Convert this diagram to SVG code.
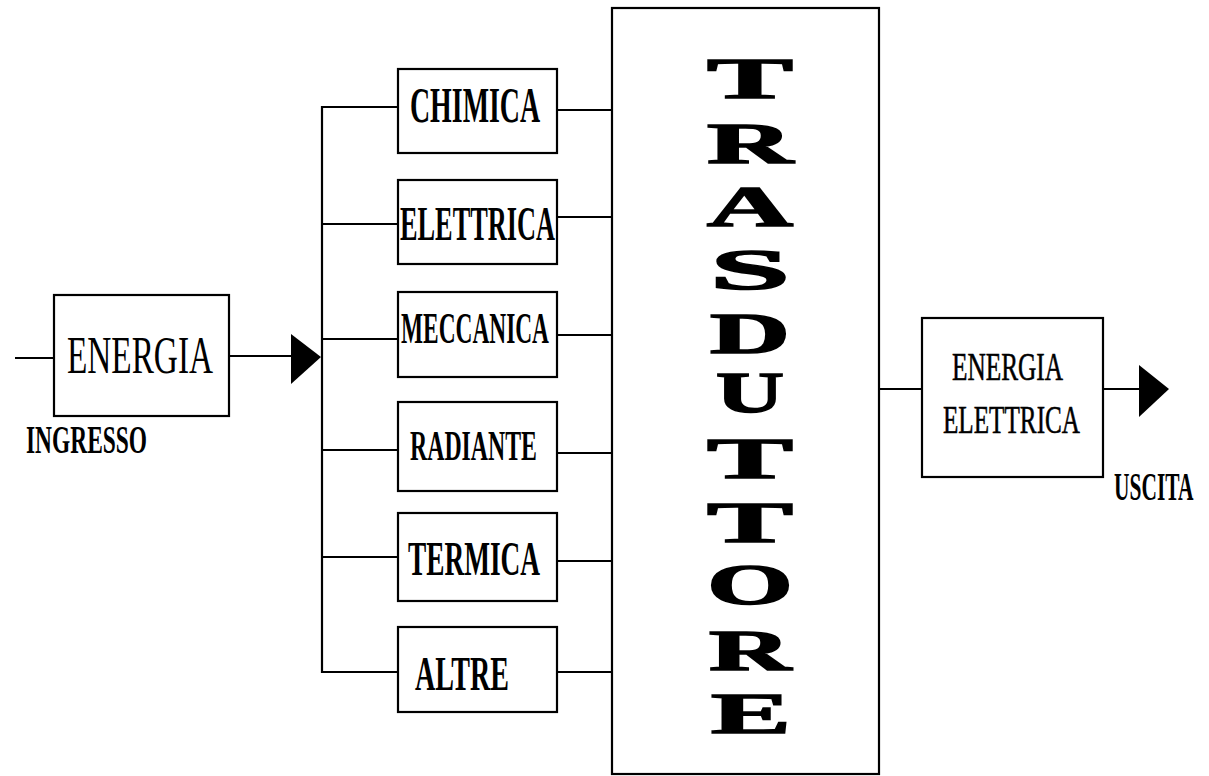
<svg xmlns="http://www.w3.org/2000/svg" width="1209" height="776" viewBox="0 0 1209 776">
<style>
.box{fill:#fff;stroke:#000;stroke-width:2.2}
.ln{stroke:#000;stroke-width:2.2;fill:none}
.lbl{font-family:"Liberation Serif","Times New Roman",serif;font-weight:bold;fill:#000}
.reg{font-family:"Liberation Serif","Times New Roman",serif;font-weight:normal;fill:#000}
.med{stroke:#000;stroke-width:0.6}
.big{font-family:"Liberation Serif","Times New Roman",serif;font-weight:bold;font-size:56px;fill:#000;stroke:#000;stroke-width:1.5}
</style>
<rect width="1209" height="776" fill="#fff"/>
<g id="connectors">
<line class="ln" x1="15" y1="358" x2="54" y2="358"/>
<line class="ln" x1="229" y1="356" x2="292" y2="356"/>
<polygon points="291,334 321,357 291,384" fill="#000"/>
<polyline class="ln" points="398,107 322,107 322,672 398,672"/>
<line class="ln" x1="322" y1="224" x2="398" y2="224"/>
<line class="ln" x1="322" y1="339" x2="398" y2="339"/>
<line class="ln" x1="322" y1="450" x2="398" y2="450"/>
<line class="ln" x1="322" y1="557" x2="398" y2="557"/>
<line class="ln" x1="557" y1="110" x2="612" y2="110"/>
<line class="ln" x1="557" y1="217" x2="612" y2="217"/>
<line class="ln" x1="557" y1="335" x2="612" y2="335"/>
<line class="ln" x1="557" y1="453" x2="612" y2="453"/>
<line class="ln" x1="557" y1="561" x2="612" y2="561"/>
<line class="ln" x1="557" y1="672" x2="612" y2="672"/>
<line class="ln" x1="879" y1="389" x2="922" y2="389"/>
<line class="ln" x1="1103" y1="389" x2="1140" y2="389"/>
<polygon points="1139,365 1169,389 1139,417" fill="#000"/>
</g>
<g id="energia-in">
<rect class="box" x="54" y="295" width="175" height="121"/>
<text class="reg" x="67" y="373" font-size="53" textLength="146" lengthAdjust="spacingAndGlyphs">ENERGIA</text>
</g>
<g id="ingresso">
<text class="lbl" x="26" y="453" font-size="41" textLength="121" lengthAdjust="spacingAndGlyphs">INGRESSO</text>
</g>
<g id="chimica">
<rect class="box" x="398" y="69" width="159" height="84"/>
<text class="lbl" x="410" y="122" font-size="50" textLength="130" lengthAdjust="spacingAndGlyphs">CHIMICA</text>
</g>
<g id="elettrica">
<rect class="box" x="398" y="180" width="159" height="84"/>
<text class="lbl" x="400" y="240" font-size="48" textLength="155" lengthAdjust="spacingAndGlyphs">ELETTRICA</text>
</g>
<g id="meccanica">
<rect class="box" x="398" y="292" width="159" height="85"/>
<text class="lbl" x="401" y="343" font-size="45" textLength="148" lengthAdjust="spacingAndGlyphs">MECCANICA</text>
</g>
<g id="radiante">
<rect class="box" x="398" y="402" width="159" height="89"/>
<text class="lbl" x="410" y="460" font-size="43" textLength="127" lengthAdjust="spacingAndGlyphs">RADIANTE</text>
</g>
<g id="termica">
<rect class="box" x="398" y="513" width="159" height="88"/>
<text class="lbl" x="408" y="575" font-size="48" textLength="132" lengthAdjust="spacingAndGlyphs">TERMICA</text>
</g>
<g id="altre">
<rect class="box" x="398" y="627" width="159" height="85"/>
<text class="lbl" x="415" y="690" font-size="48" textLength="94" lengthAdjust="spacingAndGlyphs">ALTRE</text>
</g>
<g id="trasduttore">
<rect class="box" x="612" y="8" width="267" height="766"/>
<text class="big" x="707" y="98" textLength="86" lengthAdjust="spacingAndGlyphs">T</text>
<text class="big" x="707" y="163" textLength="86" lengthAdjust="spacingAndGlyphs">R</text>
<text class="big" x="707" y="226" textLength="86" lengthAdjust="spacingAndGlyphs">A</text>
<text class="big" x="710" y="289" textLength="80" lengthAdjust="spacingAndGlyphs">S</text>
<text class="big" x="710" y="353" textLength="80" lengthAdjust="spacingAndGlyphs">D</text>
<text class="big" x="716" y="412" textLength="68" lengthAdjust="spacingAndGlyphs">U</text>
<text class="big" x="707" y="478" textLength="86" lengthAdjust="spacingAndGlyphs">T</text>
<text class="big" x="707" y="542" textLength="86" lengthAdjust="spacingAndGlyphs">T</text>
<text class="big" x="707" y="604" textLength="86" lengthAdjust="spacingAndGlyphs">O</text>
<text class="big" x="709" y="670" textLength="82" lengthAdjust="spacingAndGlyphs">R</text>
<text class="big" x="711" y="733" textLength="80" lengthAdjust="spacingAndGlyphs">E</text>
</g>
<g id="energia-elettrica">
<rect class="box" x="922" y="318" width="181" height="159"/>
<text class="reg med" x="952" y="380" font-size="41" textLength="111" lengthAdjust="spacingAndGlyphs">ENERGIA</text>
<text class="reg med" x="943" y="433" font-size="40" textLength="137" lengthAdjust="spacingAndGlyphs">ELETTRICA</text>
</g>
<g id="uscita">
<text class="lbl" font-size="41" transform="translate(1114,500) scale(0.523,1)">USCITA</text>
</g>
</svg>
